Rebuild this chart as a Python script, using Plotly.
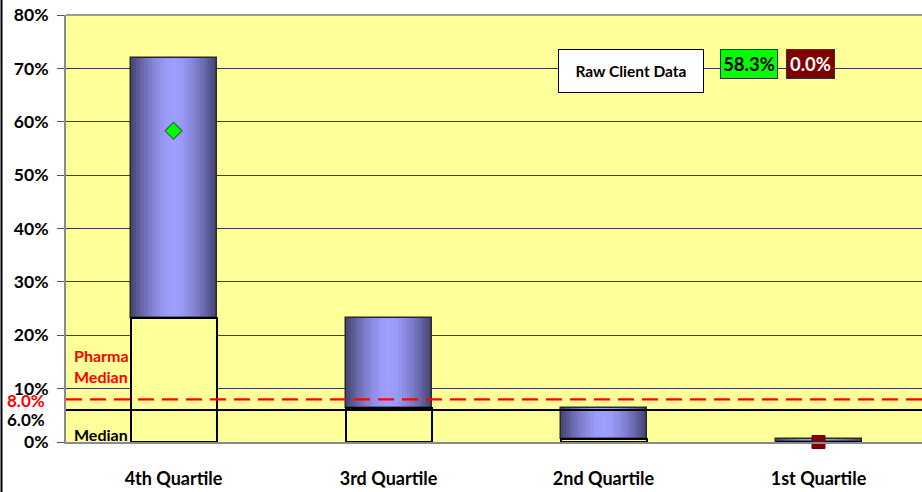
import plotly.graph_objects as go

# ---- data ----
categories = ["4th Quartile", "3rd Quartile", "2nd Quartile", "1st Quartile"]
range_low = [23.2, 6.3, 0.6, 0.0]      # bottom of blue range bar (top of yellow base)
range_high = [71.9, 23.2, 6.3, 0.5]    # top of blue range bar
client_value = 58.3                    # green diamond (4th quartile)
client_zero = 0.0                      # dark red square (1st quartile)
client_cat = "4th Quartile"
client_zero_cat = "1st Quartile"
pharma_median = 8.0
median = 6.0
y_ticks = [0, 10, 20, 30, 40, 50, 60, 70, 80]

FONT = "Lato"
W, H = 922, 492
L, R, T, B = 66, 0, 15, 50
PW = W - L - R
PH = H - T - B

def px(x):
    return (x - L) / PW

def py(y):
    return (H - B - y) / PH

fig = go.Figure()

bar_w = 0.4
edge = (70, 70, 118)
center = (158, 158, 255)
N = 16
for k in range(N):
    w = bar_w * (1 - k / N)
    t = k / (N - 1)
    t = 1 - (1 - t) ** 1.6
    col = "rgb(%d,%d,%d)" % tuple(int(edge[i] + (center[i] - edge[i]) * t) for i in range(3))
    fig.add_trace(go.Bar(
        x=categories,
        y=[h - l for h, l in zip(range_high, range_low)],
        base=range_low,
        width=w,
        marker=dict(color=col, line=dict(width=0)),
        showlegend=False, hoverinfo="skip",
    ))
# outline of blue range bars
fig.add_trace(go.Bar(
    x=categories,
    y=[h - l for h, l in zip(range_high, range_low)],
    base=range_low,
    width=bar_w,
    marker=dict(color="rgba(0,0,0,0)", line=dict(color="#2a2a2a", width=1.5)),
    showlegend=False, hoverinfo="skip",
))
# yellow base bars
fig.add_trace(go.Bar(
    x=categories,
    y=range_low,
    base=[0] * len(categories),
    width=bar_w,
    marker=dict(color="#FFFF99", line=dict(color="#000000", width=2)),
    showlegend=False, hoverinfo="skip",
))

# client markers
fig.add_trace(go.Scatter(
    x=[client_cat], y=[client_value], mode="markers",
    marker=dict(symbol="diamond", size=13, color="#00FF00", line=dict(color="#336633", width=1.2)),
    showlegend=False, hoverinfo="skip", cliponaxis=False,
))
fig.add_trace(go.Scatter(
    x=[client_zero_cat], y=[client_zero], mode="markers",
    marker=dict(symbol="square", size=13, color="#800000", line=dict(color="#600000", width=1)),
    showlegend=False, hoverinfo="skip", cliponaxis=False,
))

# reference lines
fig.add_shape(type="line", xref="paper", x0=0, x1=1, yref="y", y0=pharma_median, y1=pharma_median,
              line=dict(color="#FF0000", width=2.2, dash="16px,8px"), layer="above")
fig.add_shape(type="line", xref="paper", x0=0, x1=1, yref="y", y0=median, y1=median,
              line=dict(color="#000000", width=2), layer="above")
# top border of plot area
fig.add_shape(type="line", xref="paper", x0=0, x1=1, yref="paper", y0=1, y1=1,
              line=dict(color="#9a9a9a", width=2), layer="above")
# left chart border
fig.add_shape(type="line", xref="paper", x0=px(1.5), x1=px(1.5), yref="paper", y0=py(H), y1=py(0),
              line=dict(color="#000000", width=2), layer="above")

ann = []
ann.append(dict(x=px(47), y=pharma_median, xref="paper", yref="y", xanchor="right", yanchor="middle",
                text="%.1f%%" % pharma_median, showarrow=False, yshift=-1,
                font=dict(family=FONT, size=17, color="#FF0000", weight="bold")))
ann.append(dict(x=px(47), y=median, xref="paper", yref="y", xanchor="right", yanchor="middle",
                text="%.1f%%" % median, showarrow=False, yshift=-10,
                font=dict(family=FONT, size=17, color="#000000", weight="bold")))
ann.append(dict(x=px(72), y=py(366), xref="paper", yref="paper", xanchor="left", yanchor="middle",
                text="Pharma<br>Median", showarrow=False, align="left",
                font=dict(family=FONT, size=16, color="#FF0000", weight="bold")))
ann.append(dict(x=px(72), y=py(434), xref="paper", yref="paper", xanchor="left", yanchor="middle",
                text="Median", showarrow=False, align="left",
                font=dict(family=FONT, size=16, color="#000000", weight="bold")))
# legend-like boxes
ann.append(dict(x=px(558), y=py(49), xref="paper", yref="paper", xanchor="left", yanchor="top",
                text="Raw Client Data", showarrow=False, width=144, height=42,
                bgcolor="#FFFFFF", bordercolor="#000000", borderwidth=1, borderpad=0,
                font=dict(family=FONT, size=15.5, color="#000000", weight="bold")))
ann.append(dict(x=px(720), y=py(49), xref="paper", yref="paper", xanchor="left", yanchor="top",
                text="%.1f%%" % client_value, showarrow=False, width=56, height=28,
                bgcolor="#00FF00", bordercolor="#333333", borderwidth=1, borderpad=0,
                font=dict(family=FONT, size=18.5, color="#000000", weight="bold")))
ann.append(dict(x=px(786), y=py(49), xref="paper", yref="paper", xanchor="left", yanchor="top",
                text="%.1f%%" % client_zero, showarrow=False, width=47, height=28,
                bgcolor="#800000", bordercolor="#333333", borderwidth=1, borderpad=0,
                font=dict(family=FONT, size=18.5, color="#FFFFFF", weight="bold")))

fig.update_layout(
    width=W, height=H,
    margin=dict(l=L, r=R, t=T, b=B, pad=0),
    paper_bgcolor="#FFFFFF",
    plot_bgcolor="#FFFF99",
    barmode="overlay",
    bargap=0,
    annotations=ann,
    font=dict(family=FONT, color="#000000"),
    xaxis=dict(
        type="category", categoryorder="array", categoryarray=categories,
        range=[-0.5, -0.5 + 4 * PW / 860],
        showgrid=False, zeroline=False,
        showline=True, linecolor="#8a8a8a", linewidth=2,
        ticks="", ticklabelstandoff=19,
        tickfont=dict(family=FONT, size=18, color="#000000", weight="bold"),
    ),
    yaxis=dict(
        range=[0, 80], tickvals=y_ticks, ticktext=["%d%%" % v for v in y_ticks],
        showgrid=True, gridcolor="#3c3c3c", gridwidth=1,
        zeroline=False,
        showline=True, linecolor="#8a8a8a", linewidth=2,
        ticks="outside", ticklen=7, tickcolor="#555555", tickwidth=1,
        ticklabelstandoff=5,
        tickfont=dict(family=FONT, size=17.5, color="#000000", weight="bold"),
    ),
)

fig.write_html("out.html")
